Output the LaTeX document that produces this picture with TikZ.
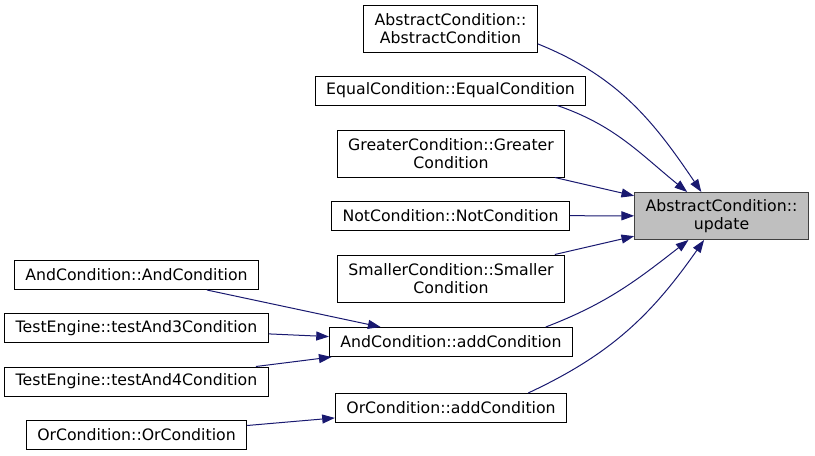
\documentclass[tikz,border=0pt]{standalone}
\usepackage{fontspec}
\setmainfont{DejaVu Sans}
\usepackage{tikz}
\usetikzlibrary{arrows.meta}

\definecolor{edgeblue}{HTML}{191970}
\definecolor{curgray}{HTML}{BFBFBF}

\tikzset{
	fn/.style={draw=black, line width=0.75pt, rectangle, inner xsep=8.25pt, inner ysep=0pt,
		minimum height=21.75pt, align=center, font=\fontsize{11.8}{13.5}\selectfont},
	fntwo/.style={fn, minimum height=35.25pt},
	cur/.style={fntwo, fill=curgray, draw=black!75},
	call/.style={draw=edgeblue, line width=0.75pt, -{Triangle[length=9.5pt,width=6.75pt]}, fill=none}
}

\begin{document}
\begin{tikzpicture}[x=0.75pt,y=0.75pt]
			\useasboundingbox (0,0) rectangle (815,455);
			\node[cur] (upd) at (721.5,239) {AbstractCondition::\\update};
			\node[fntwo] (acctor) at (450.5,426.5) {AbstractCondition::\\AbstractCondition};
			\node[fn] (eqctor) at (450.5,364.5) {EqualCondition::EqualCondition};
			\node[fntwo] (gtctor) at (451,301.5) {GreaterCondition::Greater\\Condition};
			\node[fn] (notctor) at (450.5,239.5) {NotCondition::NotCondition};
			\node[fntwo] (smctor) at (451,176.5) {SmallerCondition::Smaller\\Condition};
			\node[fn] (andadd) at (451,113) {AndCondition::addCondition};
			\node[fn] (oradd) at (451,47) {OrCondition::addCondition};
			\node[fn] (andctor) at (136.5,180) {AndCondition::AndCondition};
			\node[fn] (and3) at (136.5,127) {TestEngine::testAnd3Condition};
			\node[fn] (and4) at (136.5,73.5) {TestEngine::testAnd4Condition};
			\node[fn] (orctor) at (136.5,20) {OrCondition::OrCondition};
			% callers of update
			\draw[call] (acctor.-10) to[out=-22,in=124] (upd.130);
			\draw[call] (eqctor.-8.5) to[out=-19,in=141] (upd.145);
			\draw[call] (gtctor) -- (upd);
			\draw[call] (notctor) -- (upd);
			\draw[call] (smctor) -- (upd);
			\draw[call] (andadd.9) to[out=21,in=-142] (upd.216);
			\draw[call] (oradd.11) to[out=25,in=-125] (upd.234);
			% callers of addCondition
			\draw[call] (andctor) -- (andadd);
			\draw[call] (and3) -- (andadd);
			\draw[call] (and4) -- (andadd);
			\draw[call] (orctor) -- (oradd);
		\end{tikzpicture}
\end{document}
